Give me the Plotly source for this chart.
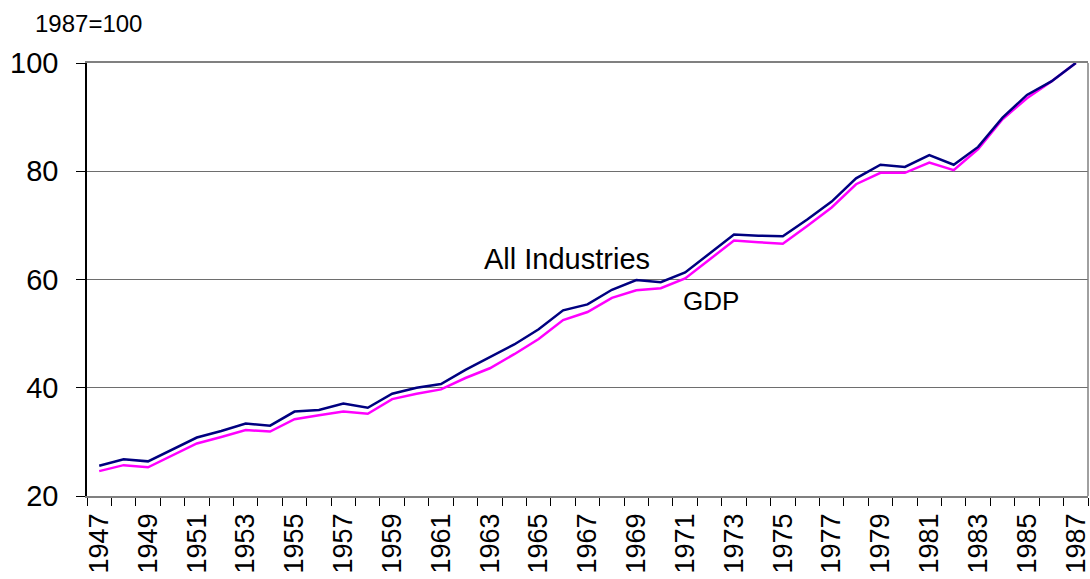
import plotly.graph_objects as go

years = list(range(1947, 1988))
all_industries = [25.6, 26.8, 26.4, 28.6, 30.8, 32.0, 33.4, 33.0, 35.6, 35.9,
                  37.1, 36.3, 38.9, 40.0, 40.7, 43.3, 45.6, 48.0, 50.8, 54.3,
                  55.4, 58.1, 59.9, 59.5, 61.3, 64.8, 68.3, 68.1, 68.0, 71.1,
                  74.4, 78.7, 81.2, 80.8, 83.0, 81.2, 84.5, 89.9, 94.1, 96.6,
                  100.0]
gdp = [24.6, 25.7, 25.3, 27.5, 29.7, 30.9, 32.2, 31.9, 34.2, 34.9,
       35.6, 35.2, 37.9, 38.9, 39.7, 41.8, 43.6, 46.2, 49.0, 52.5,
       54.0, 56.6, 58.0, 58.4, 60.2, 63.7, 67.2, 66.9, 66.6, 69.9,
       73.3, 77.6, 79.7, 79.7, 81.6, 80.2, 84.1, 89.6, 93.5, 96.6,
       100.0]
label_years = list(range(1947, 1988, 2))
y_ticks = [20, 40, 60, 80, 100]

FONT = "Liberation Sans, Arial, sans-serif"

fig = go.Figure()
fig.add_trace(go.Scatter(x=years, y=gdp, mode="lines", name="GDP",
                         line=dict(color="#FF00FF", width=2.5)))
fig.add_trace(go.Scatter(x=years, y=all_industries, mode="lines", name="All Industries",
                         line=dict(color="#000080", width=2.5)))

fig.update_layout(
    width=1090, height=579,
    margin=dict(l=87, r=2, t=63, b=83, autoexpand=False),
    paper_bgcolor="white", plot_bgcolor="white",
    showlegend=False,
    font=dict(family=FONT, color="black"),
)
fig.update_xaxes(
    range=[1946.5, 1987.5],
    tickmode="array", tickvals=label_years, ticktext=[str(y) for y in label_years],
    tickangle=-90, ticks="", tickfont=dict(size=27, family=FONT, color="black"),
    ticklabelstandoff=5, ticklabeloverflow="allow",
    showgrid=False, zeroline=False,
    showline=True, linecolor="#808080", linewidth=1.5, mirror=True,
    minor=dict(tickmode="array", tickvals=[y - 0.5 for y in years] + [1987.5],
               ticks="outside", ticklen=8, tickcolor="#000000", tickwidth=1,
               showgrid=False),
    automargin=False,
)
fig.update_yaxes(
    range=[20, 100], tickmode="array", tickvals=y_ticks,
    ticks="outside", ticklen=9, tickcolor="black", tickwidth=1,
    tickfont=dict(size=29, family=FONT, color="black"),
    ticklabelstandoff=12,
    showgrid=True, gridcolor="#6e6e6e", gridwidth=1,
    zeroline=False, showline=True, linecolor="black", linewidth=1.5,
    automargin=False,
)
fig.add_shape(type="line", xref="paper", yref="paper", x0=1, x1=1, y0=0, y1=1,
              line=dict(color="#808080", width=1.5))

fig.add_annotation(x=1966.14, y=63.8, text="All Industries", showarrow=False,
                   xref="x", yref="y", font=dict(size=29, family=FONT, color="black"))
fig.add_annotation(x=1972.04, y=56.0, text="GDP", showarrow=False,
                   xref="x", yref="y", font=dict(size=26, family=FONT, color="black"))
fig.add_annotation(x=-0.054, y=1.092, xref="paper", yref="paper", xanchor="left",
                   yanchor="middle", text="1987=100", showarrow=False,
                   font=dict(size=24, family=FONT, color="black"))

fig.write_html("out.html", config={"displayModeBar": False},
               post_script="document.body.style.margin='0';document.body.style.overflow='hidden';")
